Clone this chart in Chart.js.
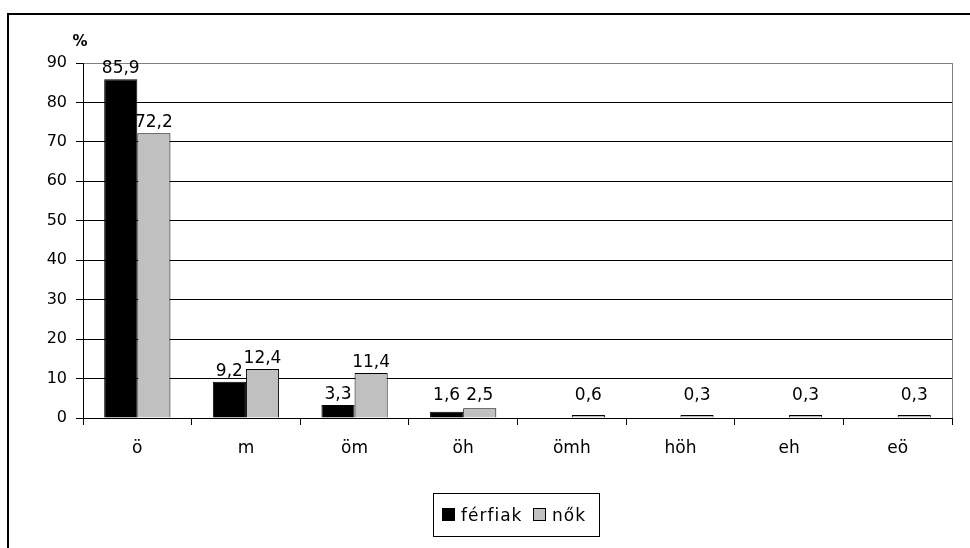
<!DOCTYPE html>
<html>
<head>
<meta charset="utf-8">
<script src="https://cdn.jsdelivr.net/npm/chart.js@4/dist/chart.umd.min.js"></script>
<style>
  html, body { margin: 0; padding: 0; background: #fff; }
  #wrap { width: 970px; height: 548px; }
</style>
</head>
<body>
<div id="wrap"><canvas id="c" width="970" height="548"></canvas></div>
<script>
  // chart data
  var categories = ["ö", "m", "öm", "öh", "ömh", "höh", "eh", "eö"];
  var ferfiak = [85.9, 9.2, 3.3, 1.6, 0, 0, 0, 0];
  var nok = [72.2, 12.4, 11.4, 2.5, 0.6, 0.3, 0.3, 0.3];
  var seriesNames = ["férfiak", "nők"];
  var yTicks = [0, 10, 20, 30, 40, 50, 60, 70, 80, 90];

  var FONT = "'DejaVu Sans', 'Liberation Sans', Arial, sans-serif";

  function fmt(v) {
    return v.toFixed(1).replace(".", ",");
  }

  // value labels above the bars, zero values get none
  var valueLabels = {
    id: "valueLabels",
    afterDatasetsDraw: function (chart) {
      var ctx = chart.ctx;
      var base = chart.scales.y.getPixelForValue(0);
      ctx.save();
      ctx.font = "17px " + FONT;
      ctx.fillStyle = "#000";
      ctx.textAlign = "center";
      ctx.textBaseline = "alphabetic";
      chart.data.datasets.forEach(function (ds, di) {
        var meta = chart.getDatasetMeta(di);
        meta.data.forEach(function (bar, i) {
          var v = ds.data[i];
          if (!v) return;
          // keep labels of tiny bars clear of the axis
          var y = Math.min(bar.y - 6, base - 18);
          ctx.fillText(fmt(v), bar.x, y);
        });
      });
      ctx.restore();
    }
  };

  // outer frame, unit label, right border of plot, legend box
  var decor = {
    id: "decor",
    afterDraw: function (chart) {
      var ctx = chart.ctx;
      var a = chart.chartArea;
      ctx.save();

      ctx.strokeStyle = "#000";
      ctx.lineWidth = 2;
      ctx.strokeRect(8, 14, 980, 560);

      ctx.strokeStyle = "#808080";
      ctx.lineWidth = 1;
      ctx.beginPath();
      ctx.moveTo(Math.round(a.right) + 0.5, a.top);
      ctx.lineTo(Math.round(a.right) + 0.5, a.bottom);
      ctx.stroke();

      ctx.fillStyle = "#000";
      ctx.font = "bold 15px " + FONT;
      ctx.textAlign = "center";
      ctx.textBaseline = "middle";
      ctx.fillText("%", 80, 42);

      // legend
      ctx.strokeStyle = "#000";
      ctx.lineWidth = 1;
      ctx.strokeRect(433.5, 493.5, 166, 43);
      ctx.font = "17px " + FONT;
      ctx.letterSpacing = "1px";
      ctx.textAlign = "left";
      ctx.textBaseline = "alphabetic";
      var xs = [442, 533];
      chart.data.datasets.forEach(function (ds, i) {
        ctx.fillStyle = ds.backgroundColor;
        ctx.fillRect(xs[i] + 0.5, 508.5, 12, 12);
        ctx.strokeRect(xs[i] + 0.5, 508.5, 12, 12);
        ctx.fillStyle = "#000";
        ctx.fillText(ds.label, xs[i] + 19, 521);
      });
      ctx.restore();
    }
  };

  new Chart(document.getElementById("c"), {
    type: "bar",
    data: {
      labels: categories,
      datasets: [
        { label: seriesNames[0], data: ferfiak, backgroundColor: "#000000", borderColor: "#000", borderWidth: 1 },
        { label: seriesNames[1], data: nok, backgroundColor: "#c0c0c0", borderColor: "#000", borderWidth: 1, minBarLength: 3 }
      ]
    },
    options: {
      responsive: false,
      animation: false,
      devicePixelRatio: 1,
      layout: { padding: { top: 63, right: 18, left: 0, bottom: 0 } },
      datasets: { bar: { categoryPercentage: 0.61, barPercentage: 1 } },
      plugins: { legend: { display: false }, tooltip: { enabled: false } },
      scales: {
        x: {
          offset: true,
          grid: { offset: true, drawOnChartArea: false, drawTicks: true, tickLength: 7, color: "#000", tickColor: "#000" },
          border: { color: "#000", width: 1 },
          ticks: { color: "#000", font: { family: FONT, size: 17 }, padding: 13, maxRotation: 0 },
          afterFit: function (s) { s.height = 130; }
        },
        y: {
          min: 0,
          max: 90,
          afterBuildTicks: function (s) {
            s.ticks = yTicks.map(function (v) { return { value: v }; });
          },
          grid: {
            color: function (c) { return c.tick && c.tick.value === 90 ? "#808080" : "#000"; },
            tickColor: "#000",
            tickLength: 7,
            lineWidth: 1
          },
          border: { color: "#000", width: 1 },
          ticks: { color: "#000", font: { family: FONT, size: 16 }, padding: 9 },
          afterFit: function (s) { s.width = 83; }
        }
      }
    },
    plugins: [valueLabels, decor]
  });
</script>
</body>
</html>
